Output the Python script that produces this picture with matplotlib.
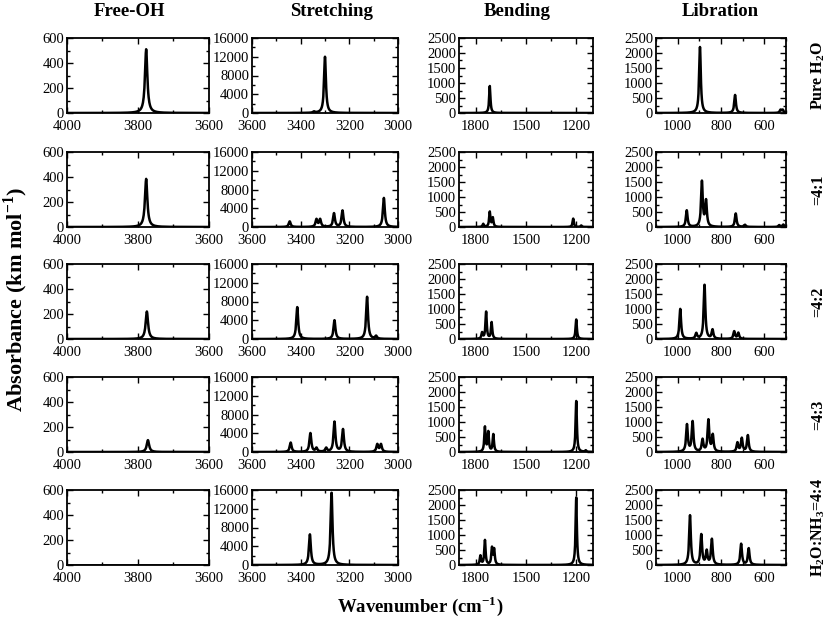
import numpy as np
import matplotlib
matplotlib.use("Agg")
import matplotlib.pyplot as plt
from matplotlib.ticker import MultipleLocator

plt.rcParams['font.family'] = ['Liberation Serif', 'DejaVu Serif']
plt.rcParams['mathtext.fontset'] = 'custom'
plt.rcParams['mathtext.rm'] = 'Liberation Serif'
plt.rcParams['mathtext.bf'] = 'Liberation Serif:bold'

# peak positions (cm-1) and heights (km/mol), one list per row
freeoh_pos = [[3777], [3777], [3775], [3772], []]
freeoh_int = [[510], [385], [220], [95], []]

stretch_pos = [[3345, 3300],
               [3445, 3335, 3320, 3263, 3228, 3058],
               [3414, 3261, 3127, 3090],
               [3441, 3360, 3335, 3295, 3261, 3226, 3085, 3070],
               [3362, 3273]]
stretch_int = [[250, 12000],
               [1200, 1600, 1600, 2900, 3500, 6200],
               [6800, 4000, 9000, 600],
               [2000, 4000, 800, 800, 6400, 4800, 1600, 1600],
               [6500, 15400]]

bend_pos = [[1716],
            [1755, 1716, 1698, 1218, 1170],
            [1762, 1738, 1705, 1200],
            [1745, 1725, 1695, 1200, 1143],
            [1772, 1745, 1703, 1690, 1200]]
bend_int = [[900],
            [100, 500, 300, 280, 50],
            [200, 900, 550, 650],
            [820, 650, 580, 1700, 50],
            [300, 820, 550, 500, 2250]]

lib_pos = [[897, 735, 525, 515],
           [958, 888, 869, 732, 689, 531, 512],
           [988, 914, 876, 839, 739, 720],
           [957, 931, 885, 858, 838, 724, 704, 676],
           [943, 891, 866, 842, 707, 672]]
lib_int = [[2200, 600, 100, 100],
           [550, 1500, 850, 450, 70, 60, 80],
           [1000, 180, 1800, 300, 250, 200],
           [900, 1000, 400, 1050, 550, 300, 450, 550],
           [1650, 1000, 450, 850, 700, 550]]

col_titles = ["Free-OH", "Stretching", "Bending", "Libration"]
row_labels = [r"Pure H$_\mathbf{2}$O", "=4:1", "=4:2", "=4:3",
              r"H$_\mathbf{2}$O:NH$_\mathbf{3}$=4:4"]

# per column: data, x range, y max, x major/minor, y major/minor, half width
cols = [
    (freeoh_pos, freeoh_int, (4000, 3600), 600, 200, 100, 200, 100, 4),
    (stretch_pos, stretch_int, (3600, 3000), 16000, 200, 100, 4000, 2000, 4.5),
    (bend_pos, bend_int, (1900, 1100), 2500, 300, 150, 500, 250, 4.5),
    (lib_pos, lib_int, (1100, 500), 2500, 200, 100, 500, 250, 4.5),
]

W, H = 830, 620
fig = plt.figure(figsize=(8.3, 6.2), dpi=100)

lefts = [67, 252, 459, 656]
rights = [209, 398, 593, 786]
tops = [38, 152, 264, 377, 490]
ax_h = 75


def spectrum(x, pos, hts, g):
    y = np.zeros_like(x)
    for p, h in zip(pos, hts):
        y += h * g**2 / ((x - p)**2 + g**2)
    return y


for c, (pos_l, int_l, xr, ymax, xmaj, xmin_, ymaj, ymin_, g) in enumerate(cols):
    for r in range(5):
        ax = fig.add_axes([lefts[c] / W, 1 - (tops[r] + ax_h) / H,
                           (rights[c] - lefts[c]) / W, ax_h / H])
        x = np.arange(min(xr), max(xr) + 1, 1.0)
        ax.plot(x, spectrum(x, pos_l[r], int_l[r], g), color='black', lw=1.8)
        ax.set_xlim(xr)
        ax.set_ylim(0, ymax)
        ax.xaxis.set_major_locator(MultipleLocator(xmaj))
        ax.xaxis.set_minor_locator(MultipleLocator(xmin_))
        ax.yaxis.set_major_locator(MultipleLocator(ymaj))
        ax.yaxis.set_minor_locator(MultipleLocator(ymin_))
        ax.tick_params(which='both', direction='in', top=True, right=True,
                       labelsize=10.5, width=1)
        ax.tick_params(which='major', length=4)
        ax.tick_params(axis='x', which='major', pad=5)
        ax.tick_params(axis='y', which='major', pad=2)
        ax.tick_params(which='minor', length=2.5)
        for s in ax.spines.values():
            s.set_linewidth(1.3)
        if c == 3:
            fig.text(818 / W, 1 - (tops[r] + ax_h / 2) / H, row_labels[r],
                     rotation=90, ha='center', va='center',
                     fontsize=11.5, fontweight='bold')

title_x = [129, 331, 517, 720]
for t, xx in zip(col_titles, title_x):
    fig.text(xx / W, 1 - 12 / H, t, ha='center', va='center',
             fontsize=13.5, fontweight='bold')

fig.text(16 / W, 1 - 300 / H, r"Absorbance (km mol$^{\mathbf{-1}}$)",
         rotation=90, ha='center', va='center', fontsize=16, fontweight='bold')
fig.text(420 / W, 1 - 606 / H, r"Wavenumber (cm$^{\mathbf{-1}}$)",
         ha='center', va='center', fontsize=13.5, fontweight='bold')

fig.savefig("out.png", dpi=100)
